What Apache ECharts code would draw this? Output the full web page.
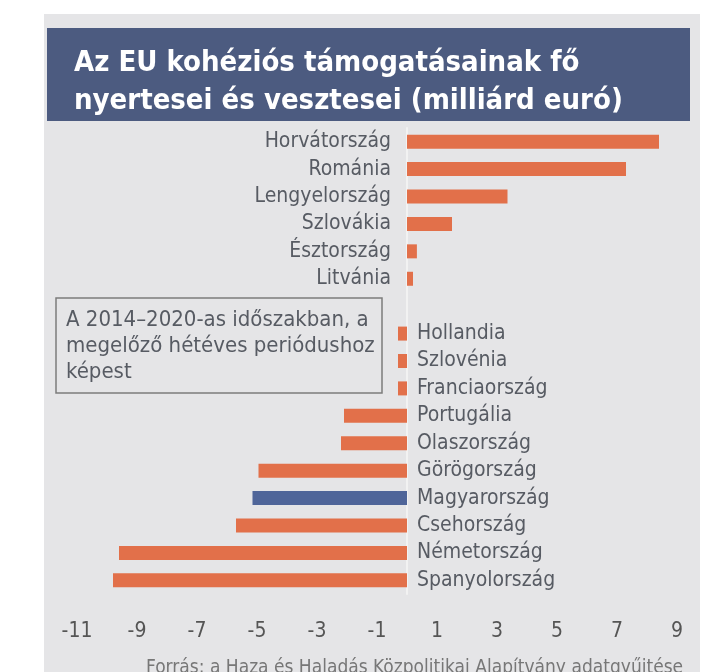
<!DOCTYPE html>
<html><head><meta charset="utf-8">
<script src="https://cdn.jsdelivr.net/npm/echarts@6/dist/echarts.min.js"></script>
<style>html,body{margin:0;padding:0;background:#fff}#c{width:718px;height:672px}</style>
</head><body><div id="c"></div>
<script>
const categories = ['Horvátország','Románia','Lengyelország','Szlovákia','Észtország','Litvánia','','Hollandia','Szlovénia','Franciaország','Portugália','Olaszország','Görögország','Magyarország','Csehország','Németország','Spanyolország'];
const values = [8.4, 7.3, 3.35, 1.5, 0.33, 0.2, null, -0.3, -0.3, -0.3, -2.1, -2.2, -4.95, -5.15, -5.7, -9.6, -9.8];
const highlighted = ['Magyarország'];
const tickLabels = [-11, -9, -7, -5, -3, -1, 1, 3, 5, 7, 9];
const titleText = 'Az EU kohéziós támogatásainak fő\nnyertesei és vesztesei (milliárd euró)';
const noteText = 'A 2014–2020-as időszakban, a\nmegelőző hétéves periódushoz\nképest';
const sourceText = 'Forrás: a Haza és Haladás Közpolitikai Alapítvány adatgyűjtése';

const FONT = '"Liberation Sans Narrow","DejaVu Sans Condensed",sans-serif';
const ORANGE = '#e2704a';
const BLUE = '#4f6599';
const LABEL = '#575b63';

const barData = categories.map((c, i) => {
  const v = values[i];
  if (v === null) return null;
  const pos = v >= 0;
  return {
    value: v,
    itemStyle: { color: highlighted.includes(c) ? BLUE : ORANGE },
    label: { position: pos ? 'left' : 'right', distance: pos ? 16 : 10 }
  };
});

const chart = echarts.init(document.getElementById('c'), null, { renderer: 'canvas' });
chart.setOption({
  backgroundColor: '#ffffff',
  animation: false,
  title: {
    text: titleText, left: 69, top: 39,
    textStyle: { color: '#ffffff', fontFamily: FONT, fontSize: 29, fontWeight: 'bold', lineHeight: 38 }
  },
  grid: { left: 47, right: 11, top: 128, bottom: 78 },
  xAxis: {
    type: 'value', min: -12, max: 10,
    axisLine: { show: false }, axisTick: { show: false }, splitLine: { show: false },
    axisLabel: { customValues: tickLabels, margin: 27, color: '#555', fontSize: 21, fontFamily: FONT }
  },
  yAxis: {
    type: 'category', inverse: true, data: categories,
    axisLabel: { show: false }, axisTick: { show: false },
    axisLine: { show: true, onZero: true, lineStyle: { color: '#f2f2f2', width: 2 } }
  },
  series: [{
    type: 'bar', barWidth: 14, data: barData,
    label: { show: true, formatter: '{b}', fontFamily: FONT, fontSize: 21, color: LABEL }
  }],
  graphic: [
    { type: 'rect', z: -10, shape: { x: 44, y: 14, width: 656, height: 660 }, style: { fill: '#e5e5e7' } },
    { type: 'rect', z: -5, shape: { x: 47, y: 28, width: 643, height: 93 }, style: { fill: '#4c5b80' } },
    { type: 'rect', shape: { x: 56, y: 298, width: 326, height: 95 }, style: { fill: 'none', stroke: '#7c7c7c', lineWidth: 1.5 } },
    { type: 'text', x: 66, y: 307, style: { text: noteText, fontFamily: FONT, fontSize: 22, lineHeight: 26, fill: LABEL } },
    { type: 'text', x: 146, y: 659, style: { text: sourceText, fontFamily: FONT, fontSize: 19, fill: '#777' } }
  ]
});
</script></body></html>
